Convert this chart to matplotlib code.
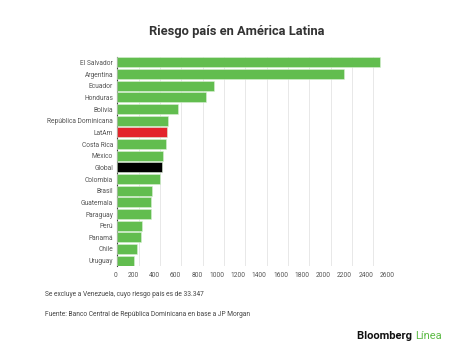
import numpy as np
import matplotlib
matplotlib.use('Agg')
import matplotlib.pyplot as plt

countries = ["El Salvador", "Argentina", "Ecuador", "Honduras", "Bolivia",
             "República Dominicana", "LatAm", "Costa Rica", "México", "Global",
             "Colombia", "Brasil", "Guatemala", "Paraguay", "Perú", "Panamá",
             "Chile", "Uruguay"]
values = [2462, 2125, 906, 831, 572, 478, 463, 456, 431, 419,
          400, 328, 316, 313, 228, 219, 188, 154]
ticks = list(range(0, 2800, 200))

green = "#62bd4f"
colors = []
for c in countries:
    if c == "LatAm":
        colors.append("#e3242b")
    elif c == "Global":
        colors.append("#000000")
    else:
        colors.append(green)

plt.rcParams["font.family"] = ["Roboto", "DejaVu Sans"]

fig = plt.figure(figsize=(4.74, 3.54), dpi=100)
ax = fig.add_axes([0.2475, 0.2472, 0.5852, 0.593])

y = np.arange(len(countries))
ax.barh(y, values, height=0.86, color=colors, edgecolor="#d9efd4", linewidth=0.4, zorder=3)
ax.set_ylim(len(countries) - 0.5, -0.5)
ax.set_xlim(0, 2600)
ax.set_yticks(y)
ax.set_yticklabels(countries, fontsize=4.8, color="#555555")
ax.set_xticks(ticks)
ax.set_xticklabels([str(t) for t in ticks], fontsize=4.8, color="#555555", ha="right")
ax.tick_params(axis="both", length=0, pad=3)
ax.tick_params(axis="x", pad=4)
ax.grid(axis="x", color="#e8e8e8", linewidth=0.7, zorder=0)
for s in ["top", "right", "bottom"]:
    ax.spines[s].set_visible(False)
ax.spines["left"].set_color("#444444")
ax.spines["left"].set_linewidth(0.8)

fig.text(0.5, 0.91, "Riesgo país en América Latina", ha="center", va="center",
         fontsize=9.3, fontweight="bold", color="#333333")
fig.text(45 / 474, 1 - 295 / 354, "Se excluye a Venezuela, cuyo riesgo país es de 33.347",
         fontsize=4.8, color="#444444", va="center")
fig.text(45 / 474, 1 - 314 / 354, "Fuente: Banco Central de República Dominicana en base a JP Morgan",
         fontsize=4.8, color="#444444", va="center")
t = fig.text(357 / 474, 1 - 336 / 354, "Bloomberg ", fontsize=8, fontweight="bold",
             color="#111111", va="center")
fig.canvas.draw()
bb = t.get_window_extent()
fig.text(bb.x1 / fig.bbox.width, 1 - 336 / 354, "Línea", fontsize=8, color="#5dbb46", va="center")

fig.savefig("out.png", dpi=100)
